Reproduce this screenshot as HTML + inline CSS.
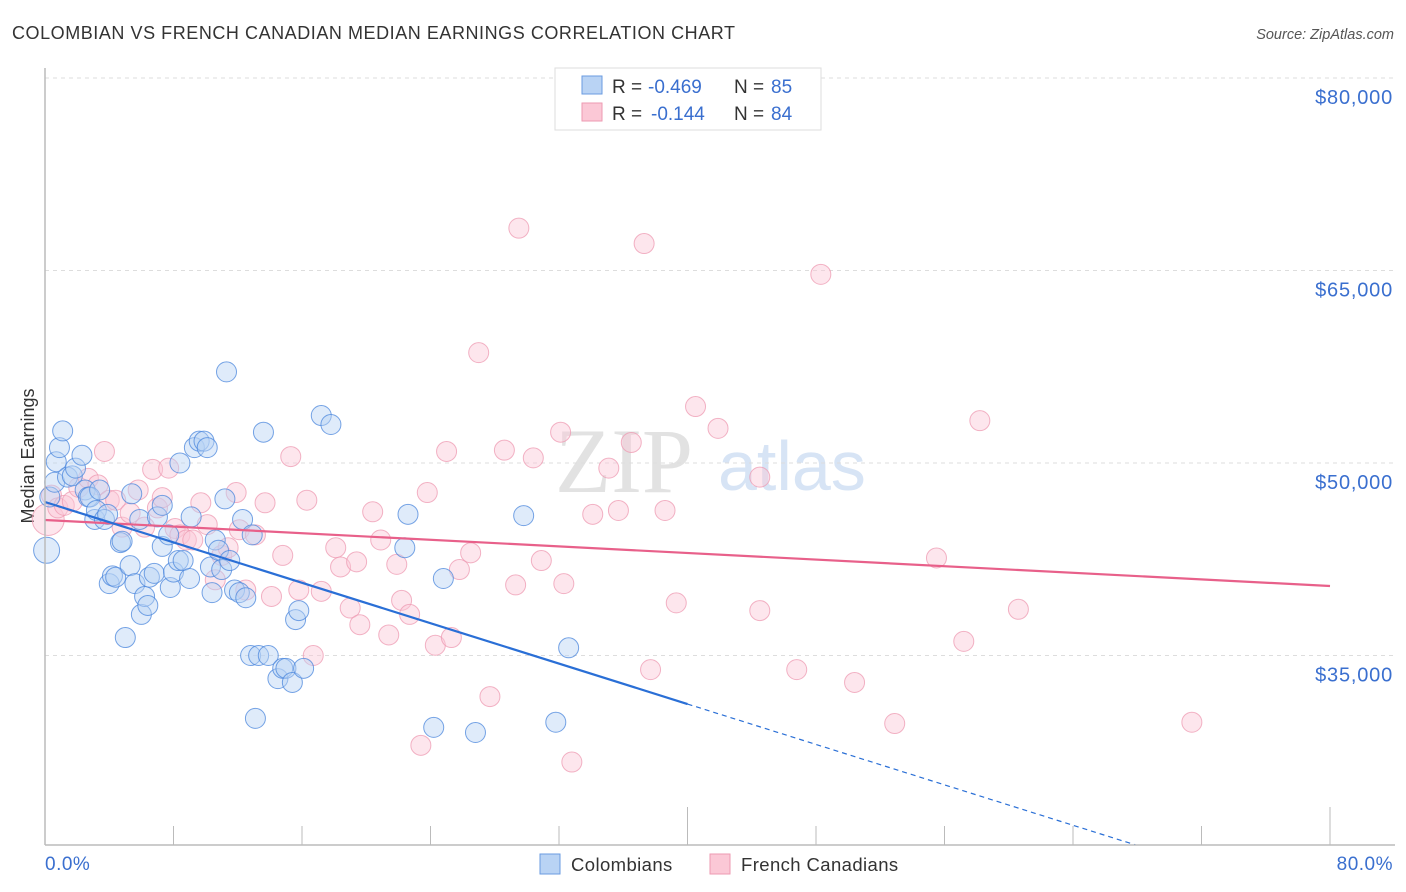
<!DOCTYPE html>
<html><head><meta charset="utf-8"><style>
body{margin:0;background:#fff;font-family:"Liberation Sans",sans-serif}
svg{display:block}
</style></head><body>
<svg id="c" width="1406" height="892" xmlns="http://www.w3.org/2000/svg">
<text x="12" y="39" font-size="18" letter-spacing="0.55" fill="#333">COLOMBIAN VS FRENCH CANADIAN MEDIAN EARNINGS CORRELATION CHART</text>
<text x="1394" y="39" font-size="14.5" fill="#555" font-style="italic" text-anchor="end">Source: ZipAtlas.com</text>
<text x="34" y="456" font-size="18" fill="#333" text-anchor="middle" transform="rotate(-90 34 456)">Median Earnings</text>
<g><text x="555" y="492" font-size="92" fill="#e2e2e2" font-family="Liberation Serif,serif">ZIP</text><text x="718" y="490" font-size="70" fill="#d7e4f5">atlas</text></g>
<g id="grid"></g><g id="marks"></g><g id="axes"></g>
<g>
<rect x="555" y="68" width="266" height="62" fill="#fff" stroke="#ddd"/>
<rect x="582" y="76" width="20" height="18" fill="#b9d3f4" stroke="#6a9be0"/>
<rect x="582" y="103" width="20" height="18" fill="#fbc8d6" stroke="#ee9ab2"/>
<text y="93" font-size="19" fill="#333"><tspan x="612">R =</tspan><tspan x="648" fill="#3a6fcf">-0.469</tspan><tspan x="734">N =</tspan><tspan x="771" fill="#3a6fcf">85</tspan></text>
<text y="120" font-size="19" fill="#333"><tspan x="612">R =</tspan><tspan x="651" fill="#3a6fcf">-0.144</tspan><tspan x="734">N =</tspan><tspan x="771" fill="#3a6fcf">84</tspan></text>
</g>
<g>
<rect x="540" y="854" width="20" height="20" fill="#b9d3f4" stroke="#6a9be0"/>
<text x="571" y="871" font-size="18.5" letter-spacing="0.4" fill="#333">Colombians</text>
<rect x="710" y="854" width="20" height="20" fill="#fbc8d6" stroke="#ee9ab2"/>
<text x="741" y="871" font-size="18.5" letter-spacing="0.4" fill="#333">French Canadians</text>
</g>
</svg>
<script>
const yTicks=[35000,50000,65000,80000];
const yTickLabels=["$35,000","$50,000","$65,000","$80,000"];
const xTickLabels=["0.0%","80.0%"];
const blueX=[0.1,0.3,0.6,0.7,0.9,1.1,1.4,1.7,1.9,2.3,2.5,2.7,2.8,3.1,3.2,3.4,3.7,3.9,4.0,4.2,4.4,4.7,4.8,5.0,5.3,5.4,5.6,5.9,6.0,6.2,6.4,6.5,6.8,7.0,7.3,7.3,7.7,7.8,8.0,8.3,8.4,8.6,9.0,9.1,9.3,9.6,9.9,10.1,10.3,10.4,10.6,10.8,11.0,11.3,11.2,11.5,11.8,12.1,12.3,12.5,12.8,12.9,13.1,13.3,13.6,13.9,14.5,14.8,15.0,15.4,15.6,15.8,16.1,17.2,17.8,22.4,22.6,24.2,24.8,26.8,29.8,31.8,32.6];
const blueY=[43.2,47.35,48.5,50.1,51.2,52.5,48.9,49.0,49.6,50.6,47.9,47.35,47.35,45.6,46.3,47.9,45.6,46.0,40.6,41.2,41.1,43.8,43.9,36.4,42.0,47.6,40.6,45.6,38.2,39.6,38.9,41.1,41.4,45.8,46.7,43.5,44.4,40.3,41.5,42.4,50.0,42.4,41.0,45.8,51.2,51.7,51.7,51.2,41.9,39.9,44.0,43.2,41.7,57.1,47.2,42.4,40.1,39.9,45.6,39.5,35.0,44.4,30.1,35.0,52.4,35.0,33.2,34.0,34.0,32.9,37.8,38.5,34.0,53.7,53.0,43.4,46.0,29.4,41.0,29.0,45.9,29.8,35.6];
const pinkX=[0.2,0.4,0.8,1.2,1.7,2.1,2.7,3.3,3.7,4.0,4.4,4.8,5.3,5.8,6.2,6.7,7.0,7.3,7.7,8.1,8.4,8.8,9.2,9.7,10.1,10.6,11.0,11.4,11.9,12.1,12.5,13.1,13.7,14.1,14.8,15.3,15.8,16.3,16.7,17.2,18.1,18.4,19.0,19.4,19.6,20.4,20.9,21.4,21.9,22.2,22.7,23.4,23.8,24.3,25.0,25.3,25.8,26.5,27.0,27.7,28.6,29.3,29.5,30.4,30.9,32.1,32.3,32.8,34.1,35.1,35.7,36.5,37.3,37.7,38.6,39.3,40.5,41.9,44.5,44.5,46.8,48.3,50.4,52.9,55.5,57.2,58.2,60.6,71.4];
const pinkY=[45.6,47.5,46.5,46.7,47.0,48.1,48.8,48.3,50.9,47.1,47.1,45.0,46.1,47.9,45.0,49.5,46.5,47.3,49.6,44.9,44.4,44.0,44.0,46.9,45.2,40.9,42.8,43.4,47.7,44.8,40.1,44.4,46.9,39.6,42.8,50.5,40.1,47.1,35.0,40.0,43.4,41.9,38.7,42.3,37.4,46.2,44.0,36.6,42.1,39.3,38.2,28.0,47.7,35.8,50.9,36.4,41.7,43.0,58.6,31.8,51.0,40.5,68.3,50.4,42.4,52.4,40.6,26.7,46.0,49.6,46.3,51.6,67.1,33.9,46.3,39.1,54.4,52.7,48.9,38.5,33.9,64.7,32.9,29.7,42.6,36.1,53.3,38.6,29.8];
const blueTrend=[46962,-393.6];
const pinkTrend=[45560,-64.3];
const NS="http://www.w3.org/2000/svg";
const X=p=>45+p/80*1285;
const Y=v=>78+(80000-v)*192.5/15000;
function mk(t,a,parent){const e=document.createElementNS(NS,t);for(const k in a)e.setAttribute(k,a[k]);parent.appendChild(e);return e;}
const grid=document.getElementById('grid'),marks=document.getElementById('marks'),axes=document.getElementById('axes');
yTicks.forEach((v,i)=>{
 const l=mk('line',{x1:45,x2:1395,y1:Y(v),y2:Y(v),stroke:'#ddd','stroke-dasharray':'4,4'},grid);
 
 
 const t=mk('text',{x:1393,y:Y(v)+26,'font-size':20,'letter-spacing':0.8,fill:'#3a6fcf','text-anchor':'end'},axes);
 t.textContent=yTickLabels[i];
 
 
});
const ax=mk('line',{x1:45,x2:1395,y1:845,y2:845,stroke:'#bbb','stroke-width':1.5},axes);


const yax=mk('line',{x1:45,x2:45,y1:68,y2:845,stroke:'#bbb','stroke-width':1.5},axes);


for(let i=1;i<=10;i++){
 const tall=(i==5||i==10);
 const tk=mk('line',{x1:X(i*8),x2:X(i*8),y1:tall?807:826,y2:845,stroke:'#bbb'},axes);
 
 
}
[[0,'start',45],[80,'end',1393]].forEach((d,i)=>{
 const t=mk('text',{x:d[2],y:870,'font-size':19,'letter-spacing':0.5,fill:'#3a6fcf','text-anchor':d[1]},axes);
 t.textContent=xTickLabels[i];
 
 
});
function dots(xs,ys,fill,stroke,name,big){
 xs.forEach((x,i)=>{
  const c=mk('circle',{cx:X(x),cy:Y(ys[i]*1000),r:i==0?big:10,fill:fill,'fill-opacity':0.45,stroke:stroke,'stroke-opacity':0.75,'stroke-width':1},marks);
  
  
 });
}
dots(pinkX,pinkY,'#fbc8d6','#ee9ab2','french-canadian-point',16);
dots(blueX,blueY,'#b9d3f4','#4a86dc','colombian-point',13);
const bt=v=>blueTrend[0]+blueTrend[1]*v, pt=v=>pinkTrend[0]+pinkTrend[1]*v;
const pl=mk('line',{x1:X(0),y1:Y(pt(0)),x2:X(80),y2:Y(pt(80)),stroke:'#e8608a','stroke-width':2.2},marks);


const bl=mk('line',{x1:X(0),y1:Y(bt(0)),x2:X(40),y2:Y(bt(40)),stroke:'#2a6fd6','stroke-width':2.2},marks);


const xe=(blueTrend[0]-20237)/(-blueTrend[1]);
const bd=mk('line',{x1:X(40),y1:Y(bt(40)),x2:X(xe),y2:Y(bt(xe)),stroke:'#2a6fd6','stroke-width':1.2,'stroke-dasharray':'5,4'},marks);


</script>
</body></html>
